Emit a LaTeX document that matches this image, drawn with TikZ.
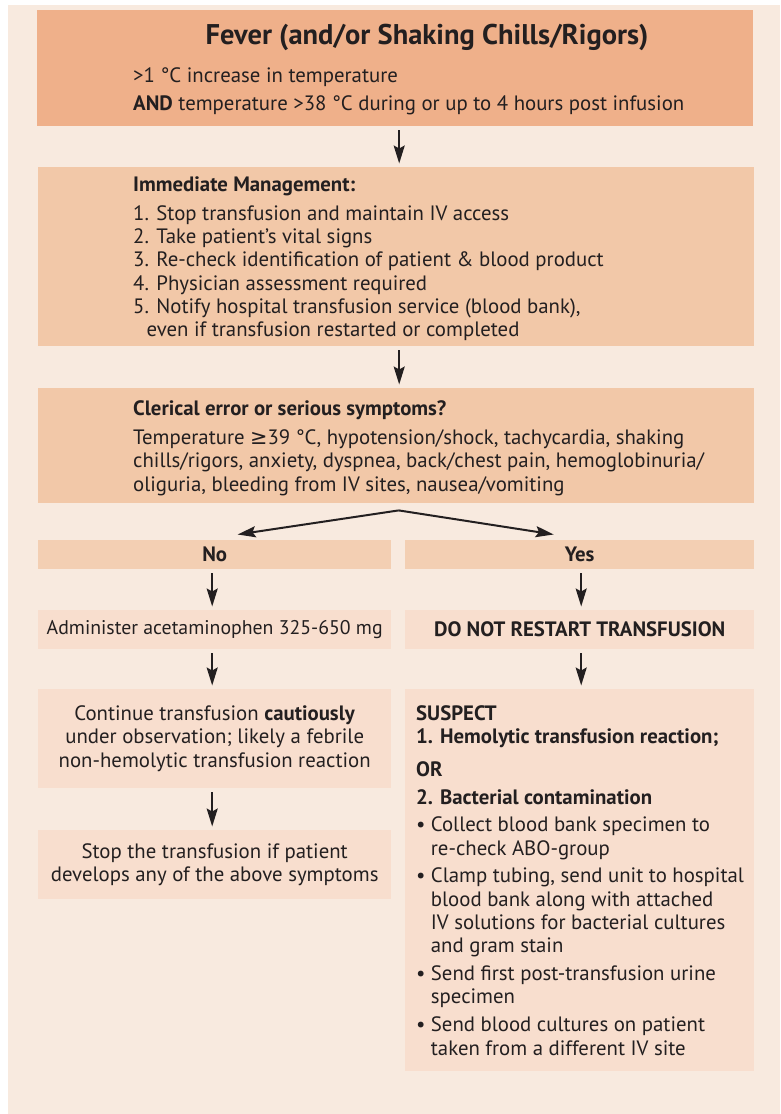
\documentclass[tikz,border=0pt]{standalone}
\usepackage{fontspec}
\setmainfont{PT Sans}
\newfontfamily\symfont{DejaVu Sans}
\usepackage{tikz}
\usetikzlibrary{calc}
\usetikzlibrary{arrows.meta}
\usetikzlibrary{positioning}
\definecolor{panel}{RGB}{248, 234, 223}
\definecolor{apricot}{RGB}{239, 176, 138}
\definecolor{peach}{RGB}{242, 200, 168}
\definecolor{sand}{RGB}{243, 207, 179}
\definecolor{blush}{RGB}{248, 222, 206}
\definecolor{ink}{RGB}{35, 31, 32}
\newcommand{\bodyfont}{\fontsize{20.8}{23.3}\selectfont}
\newcommand{\headfont}{\fontsize{28.5}{30}\selectfont\bfseries}
\newcommand{\blt}{\makebox[14.7pt][l]{\textbullet}}
\newcommand{\ind}{\hspace*{14.7pt}}

\begin{document}
\begin{tikzpicture}[x=1pt, y=-1pt,
    box/.style={rectangle, inner sep=0pt, anchor=north west, text=ink, font=\bodyfont, align=center},
    txt/.style={align=left, anchor=base west, inner sep=0pt, text=ink, font=\bodyfont},
    arr/.style={-{Stealth[length=18pt, width=11pt, inset=3pt]}, line width=2pt, draw=ink,
                shorten <=4pt, shorten >=3.5pt}]
    \useasboundingbox (0,0) rectangle (780,1114);
    \fill[panel] (8,5) rectangle (780,1114);

    % boxes
    \node[box, fill=apricot, minimum width=716pt, minimum height=116pt] (fever)    at (37,10)  {};
    \node[box, fill=peach,   minimum width=716pt, minimum height=179pt] (immed)    at (38,167) {};
    \node[box, fill=peach,   minimum width=716pt, minimum height=115pt] (clerical) at (38,388) {};
    \node[box, fill=sand,    minimum width=353pt, minimum height=29pt]  (no)  at (38,540)  {\bfseries No};
    \node[box, fill=sand,    minimum width=349pt, minimum height=29pt]  (yes) at (405,540) {\bfseries Yes};
    \node[box, fill=blush,   minimum width=353pt, minimum height=39pt, font=\fontsize{19.8}{23.3}\selectfont]  (admin) at (38,610)
        {Administer acetaminophen 325-650 mg};
    \node[box, fill=blush,   minimum width=349pt, minimum height=39pt]  (dnr)   at (405,610)
        {\bfseries DO NOT RESTART TRANSFUSION};
    \node[box, fill=blush,   minimum width=353pt, minimum height=99pt]  (cont)  at (38,689)
        {Continue transfusion \textbf{cautiously}\\ under observation; likely a febrile\\ non-hemolytic transfusion reaction};
    \node[box, fill=blush,   minimum width=353pt, minimum height=69pt]  (stopbox) at (38,830)
        {Stop the transfusion if patient\\ develops any of the above symptoms};
    \node[box, fill=blush,   minimum width=349pt, minimum height=382pt] (suspect) at (405,689) {};

    % texts (anchored on the baseline of their last line)
    \node[txt, anchor=base, font=\headfont] (title) at (427,44) {Fever (and/or Shaking Chills/Rigors)};
    \node[txt] (feverTxt) at (133,110) {>1 °C increase in temperature\\[4.4pt]
        \textbf{AND} temperature >38 °C during or up to 4 hours post infusion};
    \node[txt] (immedTxt) at (133,336.7) {\textbf{Immediate Management:}\\[5pt]
        1. Stop transfusion and maintain IV access\\
        2. Take patient’s vital signs\\
        3. Re-check identification of patient \& blood product\\
        4. Physician assessment required\\
        5. Notify hospital transfusion service (blood bank),\\
        \hspace*{13.5pt}even if transfusion restarted or completed};
    \node[txt] (clericalTxt) at (133,491) {\textbf{Clerical error or serious symptoms?}\\[6pt]
        Temperature {\symfont ≥}39 °C, hypotension/shock, tachycardia, shaking\\
        chills/rigors, anxiety, dyspnea, back/chest pain, hemoglobinuria/\\
        oliguria, bleeding from IV sites, nausea/vomiting};
    \node[txt] (suspectTxt) at (416,1055) {\textbf{SUSPECT}\\
        \textbf{1. Hemolytic transfusion reaction;}\\[9.4pt]
        \textbf{OR}\\[4.5pt]
        \textbf{2. Bacterial contamination}\\[4.5pt]
        \blt Collect blood bank specimen to\\
        \ind re-check ABO-group\\[4.5pt]
        \blt Clamp tubing, send unit to hospital\\
        \ind blood bank along with attached\\
        \ind IV solutions for bacterial cultures\\
        \ind and gram stain\\[4.5pt]
        \blt Send first post-transfusion urine\\
        \ind specimen\\[4.5pt]
        \blt Send blood cultures on patient\\
        \ind taken from a different IV site};

    % arrows
    \draw[arr] ([xshift=4pt]fever.south) -- ([xshift=3pt]immed.north);
    \draw[arr] ([xshift=3pt]immed.south) -- ([xshift=3pt]clerical.north);
    \coordinate (fork) at ([xshift=2.5pt, yshift=-7pt]clerical.south);
    \draw[arr, shorten <=0pt] (fork) -- ([xshift=19.5pt, yshift=5pt]no.north);
    \draw[arr, shorten <=0pt] (fork) -- ([xshift=-22.5pt, yshift=5pt]yes.north);
    \draw[arr] ([xshift=-2.5pt]no.south) -- ([xshift=-2.5pt]admin.north);
    \draw[arr] ([xshift=-2.5pt]admin.south) -- ([xshift=-2.5pt]cont.north);
    \draw[arr] ([xshift=-2.5pt]cont.south) -- ([xshift=-2.5pt]stopbox.north);
    \draw[arr] ([xshift=1.5pt]yes.south) -- ([xshift=1.5pt]dnr.north);
    \draw[arr] ([xshift=1.5pt]dnr.south) -- ([xshift=1.5pt]suspect.north);
\end{tikzpicture}
\end{document}
